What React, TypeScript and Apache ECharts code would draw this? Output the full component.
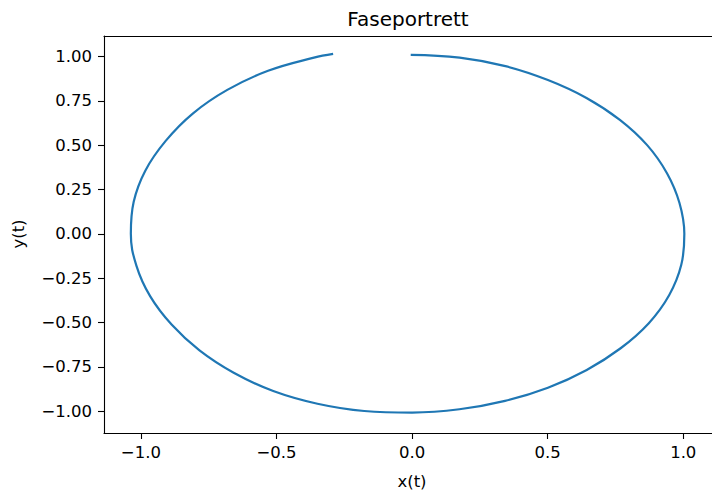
import React, { useEffect, useRef } from "react";
import * as echarts from "echarts";

const titleText = "Faseportrett";
const xAxisTitle = "x(t)";
const yAxisTitle = "y(t)";

const xTicks = [-1.0, -0.5, 0.0, 0.5, 1.0];
const xTickLabels = ["−1.0", "−0.5", "0.0", "0.5", "1.0"];
const yTicks = [-1.0, -0.75, -0.5, -0.25, 0.0, 0.25, 0.5, 0.75, 1.0];
const yTickLabels = ["−1.00", "−0.75", "−0.50", "−0.25", "0.00", "0.25", "0.50", "0.75", "1.00"];

// trajectory, in drawing order (clockwise from the top)
const xValues = [
  -0.005, 0.1753, 0.3443, 0.501, 0.6432, 0.7663, 0.8669, 0.94, 0.9861, 1.004,
  0.9927, 0.9484, 0.873, 0.7691, 0.6441, 0.501, 0.3429, 0.1745, 0.0,
  -0.1762, -0.3489, -0.512, -0.6578, -0.7839, -0.8868, -0.966, -1.0166, -1.037,
  -1.0265, -0.9832, -0.9085, -0.8087, -0.6814, -0.531, -0.3618, -0.2911,
];
const yValues = [
  1.01, 0.994, 0.946, 0.8678, 0.7666, 0.643, 0.5005, 0.3421, 0.1739, 0.0,
  -0.175, -0.3452, -0.504, -0.6454, -0.7676, -0.8678, -0.9422, -0.9894, -1.008,
  -0.9993, -0.9585, -0.8868, -0.7839, -0.6578, -0.512, -0.3516, -0.1793, 0.0,
  0.181, 0.3579, 0.5245, 0.6786, 0.812, 0.9197, 0.9939, 1.0151,
];

const xMin = -1.136;
const xMax = 1.106;
const yMin = -1.1235;
const yMax = 1.116;

const FONT = "DejaVu Sans";

export default function App() {
  const ref = useRef<HTMLDivElement>(null);

  useEffect(() => {
    if (!ref.current) return;
    const chart = echarts.init(ref.current, undefined, { renderer: "svg" });
    const data = xValues.map((x, i) => [x, yValues[i]]);
    chart.setOption({
      animation: false,
      backgroundColor: "#ffffff",
      grid: { left: 104, top: 36, right: 0, bottom: 57, containLabel: false },
      xAxis: [
        {
          type: "value",
          min: xMin,
          max: xMax,
          position: "bottom",
          splitLine: { show: false },
          axisLine: { show: true, onZero: false, lineStyle: { color: "#000", width: 1.1 } },
          axisTick: {
            show: true,
            inside: false,
            length: 6,
            customValues: xTicks,
            lineStyle: { color: "#000", width: 1.1 },
          },
          axisLabel: {
            show: true,
            margin: 11,
            customValues: xTicks,
            color: "#000",
            fontFamily: FONT,
            fontSize: 16.5,
            formatter: (v: number) => {
              const i = xTicks.findIndex((t) => Math.abs(t - v) < 1e-9);
              return i >= 0 ? xTickLabels[i] : "";
            },
          },
        },
        {
          type: "value",
          min: xMin,
          max: xMax,
          position: "top",
          splitLine: { show: false },
          axisLine: { show: true, onZero: false, lineStyle: { color: "#000", width: 1.1 } },
          axisTick: { show: false },
          axisLabel: { show: false },
        },
      ],
      yAxis: {
        type: "value",
        min: yMin,
        max: yMax,
        position: "left",
        splitLine: { show: false },
        axisLine: { show: true, onZero: false, lineStyle: { color: "#000", width: 1.1 } },
        axisTick: {
          show: true,
          inside: false,
          length: 6,
          customValues: yTicks,
          lineStyle: { color: "#000", width: 1.1 },
        },
        axisLabel: {
          show: true,
          margin: 12,
          customValues: yTicks,
          color: "#000",
          fontFamily: FONT,
          fontSize: 16.5,
          formatter: (v: number) => {
            const i = yTicks.findIndex((t) => Math.abs(t - v) < 1e-9);
            return i >= 0 ? yTickLabels[i] : "";
          },
        },
      },
      graphic: [
        {
          type: "text",
          x: 408,
          y: 19,
          style: {
            text: titleText,
            fontFamily: FONT,
            fontSize: 20,
            fill: "#000",
            align: "center",
            verticalAlign: "middle",
          },
        },
        {
          type: "text",
          x: 412,
          y: 481,
          style: {
            text: xAxisTitle,
            fontFamily: FONT,
            fontSize: 16.5,
            fill: "#000",
            align: "center",
            verticalAlign: "middle",
          },
        },
        {
          type: "text",
          x: 18,
          y: 234,
          rotation: Math.PI / 2,
          style: {
            text: yAxisTitle,
            fontFamily: FONT,
            fontSize: 16.5,
            fill: "#000",
            align: "center",
            verticalAlign: "middle",
          },
        },
      ],
      series: [
        {
          type: "line",
          xAxisIndex: 0,
          yAxisIndex: 0,
          data,
          showSymbol: false,
          symbol: "none",
          smooth: 0.4,
          clip: false,
          lineStyle: { color: "#1f77b4", width: 2.2 },
        },
      ],
    });
    return () => chart.dispose();
  }, []);

  return (
    <div
      ref={ref}
      style={{ position: "absolute", left: 0, top: 0, width: 712, height: 490 }}
    />
  );
}
